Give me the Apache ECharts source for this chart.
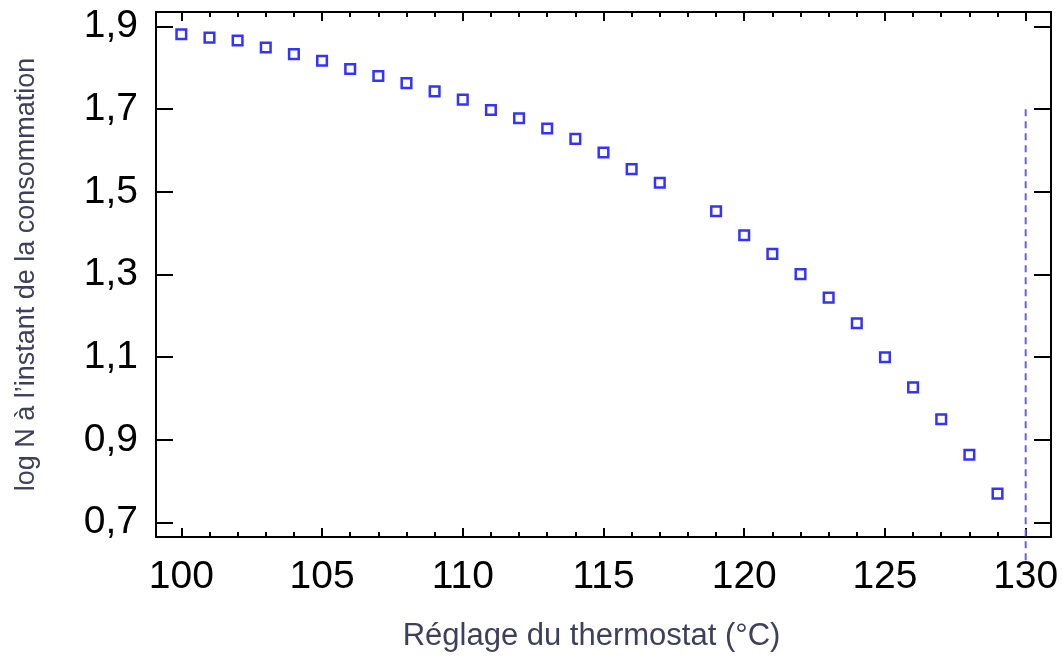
<!DOCTYPE html>
<html>
<head>
<meta charset="utf-8">
<script src="https://cdn.jsdelivr.net/npm/echarts@6/dist/echarts.min.js"></script>
<style>
  html, body { margin: 0; padding: 0; background: #fff; }
  #chart { width: 1062px; height: 659px; }
</style>
</head>
<body>
<div id="chart"></div>
<script>
// Thermostat setting (°C) and log N at the moment of consumption
const thermostat = [100, 101, 102, 103, 104, 105, 106, 107, 108, 109, 110, 111, 112, 113, 114, 115, 116, 117,
                    119, 120, 121, 122, 123, 124, 125, 126, 127, 128, 129];
const logN = [1.881, 1.873, 1.866, 1.849, 1.833, 1.817, 1.797, 1.780, 1.763, 1.743, 1.723, 1.698, 1.678, 1.653,
              1.628, 1.595, 1.555, 1.522, 1.453, 1.395, 1.350, 1.301, 1.244, 1.182, 1.100, 1.027, 0.950, 0.864, 0.770];

// Vertical limit marker at 130 °C
const limitX = 130;
const limitY = [1.70, 0.605];

const xMajorTicks = [100, 105, 110, 115, 120, 125, 130];
const xMinorTicks = Array.from({ length: 31 }, (_, i) => 100 + i);
const yTicks = [0.7, 0.9, 1.1, 1.3, 1.5, 1.7, 1.9];

const X_MIN = 99.1, X_MAX = 130.9;
const Y_MIN = 0.665, Y_MAX = 1.935;

const FONT = '"Liberation Sans", Arial, sans-serif';
const TITLE_COLOR = '#3e3e5e';
const lineStyle = { color: '#000', width: 2 };

function xAxisDef(position, ticks, len, withLine, withLabels) {
  return {
    type: 'value', position, min: X_MIN, max: X_MAX,
    splitLine: { show: false },
    axisLine: { show: withLine, lineStyle },
    axisTick: { show: true, inside: true, length: len, customValues: ticks, lineStyle },
    axisLabel: withLabels
      ? { show: true, customValues: ticks, fontSize: 39, color: '#000', fontFamily: FONT, margin: 21 }
      : { show: false }
  };
}

const chart = echarts.init(document.getElementById('chart'), null, { renderer: 'canvas' });
chart.setOption({
  animation: false,
  backgroundColor: '#fff',
  grid: { left: 156, right: 11, top: 12, bottom: 122, containLabel: false },
  xAxis: [
    Object.assign(xAxisDef('bottom', xMajorTicks, 9, true, true), {
      name: 'Réglage du thermostat (°C)', nameLocation: 'middle', nameGap: 84,
      nameTextStyle: { fontSize: 31, color: TITLE_COLOR, fontFamily: FONT, padding: [0, 24, 0, 0] }
    }),
    xAxisDef('bottom', xMinorTicks, 5, false, false),
    xAxisDef('top', xMajorTicks, 9, true, false),
    xAxisDef('top', xMinorTicks, 5, false, false)
  ],
  yAxis: [
    {
      type: 'value', position: 'left', min: Y_MIN, max: Y_MAX,
      splitLine: { show: false },
      axisLine: { show: true, lineStyle },
      axisTick: { show: true, inside: true, length: 17, customValues: yTicks, lineStyle },
      axisLabel: {
        show: true, customValues: yTicks, fontSize: 39, color: '#000', fontFamily: FONT, margin: 18,
        formatter: v => v.toFixed(1).replace('.', ',')
      },
      name: 'log N à l’instant de la consommation', nameLocation: 'middle', nameGap: 116,
      nameTextStyle: { fontSize: 27, color: TITLE_COLOR, fontFamily: FONT }
    },
    {
      type: 'value', position: 'right', min: Y_MIN, max: Y_MAX,
      splitLine: { show: false },
      axisLine: { show: true, lineStyle },
      axisTick: { show: true, inside: true, length: 17, customValues: yTicks, lineStyle },
      axisLabel: { show: false }
    }
  ],
  series: [
    {
      type: 'line',
      data: [[limitX, limitY[0]], [limitX, limitY[1]]],
      xAxisIndex: 0, yAxisIndex: 0,
      clip: false,
      symbol: 'none',
      silent: true,
      lineStyle: { color: '#5f5fff', width: 2, type: [7, 5] },
      z: 1
    },
    {
      type: 'scatter',
      data: thermostat.map((t, i) => [t, logN[i]]),
      xAxisIndex: 0, yAxisIndex: 0,
      symbol: 'rect',
      symbolSize: 9.6,
      itemStyle: { color: '#fff', borderColor: '#0000ff', borderWidth: 2.5 },
      z: 3
    }
  ]
});
</script>
</body>
</html>
